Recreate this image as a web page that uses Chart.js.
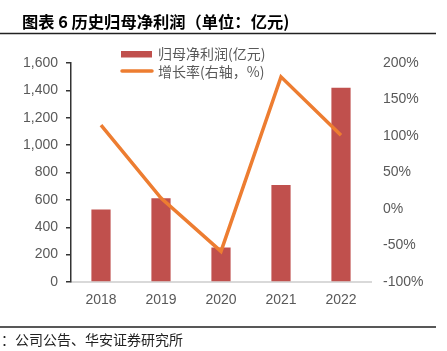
<!DOCTYPE html>
<html>
<head>
<meta charset="utf-8">
<script src="https://cdn.jsdelivr.net/npm/chart.js@4.4.0/dist/chart.umd.min.js"></script>
<style>
  body { margin: 0; background: #fff; }
  canvas { display: block; }
</style>
</head>
<body>
<canvas id="chart" width="447" height="351"></canvas>
<script>
// 数据
const years = ['2018', '2019', '2020', '2021', '2022'];
const netProfit = [530, 611, 252, 708, 1419];     // 归母净利润(亿元)
const growthRate = [115, 15, -58, 181, 101];      // 增长率(%)
const leftRange = [0, 1600, 200];
const rightRange = [-100, 200, 50];

const titleText = '图表 6 历史归母净利润（单位：亿元)';
const sourceText = '：公司公告、华安证券研究所';

const CJK = '"Noto Sans CJK SC", "Liberation Sans", sans-serif';
const LATIN = '"Liberation Sans", Arial, sans-serif';

// 标题、分隔线、图例、来源
const decorations = {
  id: 'decorations',
  afterDraw(chart) {
    const ctx = chart.ctx;
    ctx.save();
    ctx.textAlign = 'left';
    ctx.textBaseline = 'middle';
    ctx.fillStyle = '#000';
    ctx.font = 'bold 16.3px ' + CJK;
    ctx.fillText(titleText, 22, 22);

    ctx.strokeStyle = '#222';
    ctx.lineWidth = 1.5;
    ctx.beginPath();
    ctx.moveTo(0, 33.5); ctx.lineTo(436, 33.5);
    ctx.moveTo(0, 327); ctx.lineTo(436, 327);
    ctx.stroke();

    ctx.font = '14px ' + CJK;
    ctx.fillStyle = '#222';
    ctx.fillText(sourceText, 1, 340);

    // 图例
    const bar = chart.data.datasets.find(d => d.type === 'bar');
    const line = chart.data.datasets.find(d => d.type === 'line');
    ctx.fillStyle = bar.backgroundColor;
    ctx.fillRect(121, 51, 31, 6.5);
    ctx.strokeStyle = line.borderColor;
    ctx.lineWidth = 3.5;
    ctx.lineCap = 'round';
    ctx.beginPath();
    ctx.moveTo(122, 71); ctx.lineTo(152, 71);
    ctx.stroke();
    ctx.font = '14px ' + CJK;
    ctx.fillStyle = '#595959';
    ctx.fillText(bar.label, 158, 54);
    ctx.fillText(line.label, 158, 72);
    ctx.restore();
  }
};

new Chart(document.getElementById('chart'), {
  data: {
    labels: years,
    datasets: [
      {
        type: 'line',
        label: '增长率(右轴，%)',
        data: growthRate,
        yAxisID: 'y1',
        borderColor: '#ED7D31',
        borderWidth: 3.5,
        pointRadius: 0,
        tension: 0,
        order: 0
      },
      {
        type: 'bar',
        label: '归母净利润(亿元)',
        data: netProfit,
        yAxisID: 'y',
        backgroundColor: '#C0504D',
        barPercentage: 0.32,
        categoryPercentage: 1,
        order: 1
      }
    ]
  },
  options: {
    responsive: false,
    animation: false,
    layout: { padding: { top: 63, left: 0, right: 0, bottom: 0 } },
    plugins: { legend: { display: false }, tooltip: { enabled: false } },
    scales: {
      x: {
        grid: { display: false, drawTicks: false },
        border: { color: '#D9D9D9', width: 2 },
        ticks: { color: '#595959', font: { size: 14, family: LATIN }, padding: 10 },
        afterFit: s => { s.height = 69; }
      },
      y: {
        position: 'left',
        min: leftRange[0], max: leftRange[1],
        ticks: {
          stepSize: leftRange[2],
          color: '#595959',
          font: { size: 14, family: LATIN },
          padding: 8,
          callback: v => v.toLocaleString('en-US')
        },
        grid: { drawOnChartArea: false, tickLength: 5, color: '#333', lineWidth: 1.5 },
        border: { color: '#333', width: 1.5 },
        afterFit: s => { s.width = 71; }
      },
      y1: {
        position: 'right',
        min: rightRange[0], max: rightRange[1],
        ticks: {
          stepSize: rightRange[2],
          color: '#595959',
          font: { size: 14, family: LATIN },
          padding: 12,
          callback: v => v + '%'
        },
        grid: { display: false, drawTicks: false },
        border: { display: false },
        afterFit: s => { s.width = 76; }
      }
    }
  },
  plugins: [decorations]
});
</script>
</body>
</html>
